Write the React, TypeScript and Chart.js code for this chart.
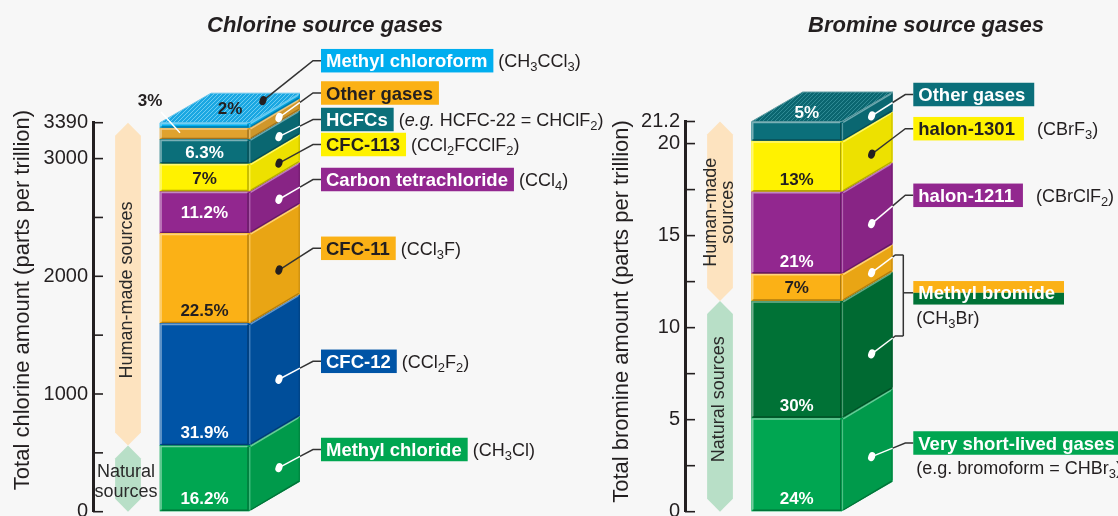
import React, { useEffect, useRef } from 'react';
import { Chart, registerables } from 'chart.js';

Chart.register(...registerables);

const FONT = "'Liberation Sans', Arial, Helvetica, sans-serif";
const BG = '#f7f7f7';
const INK = '#231f20';
const LINE = '#333333';
const W = '#ffffff';

// ---------------- Chlorine source gases (parts per trillion) ----------------
const clCategories = ['Chlorine'];
const clSeries = ['Methyl chloride', 'CFC-12', 'CFC-11', 'Carbon tetrachloride', 'CFC-113', 'HCFCs', 'Other gases', 'Methyl chloroform'];
const clValues = [563, 1037, 765, 355, 236, 207, 97, 45];
const clPercents = ['16.2%', '31.9%', '22.5%', '11.2%', '7%', '6.3%', '3%', '2%'];
const clFormulas = ['(CH_3Cl)', '(CCl_2F_2)', '(CCl_3F)', '(CCl_4)', '(CCl_2FCClF_2)', '(*e.g.* HCFC-22 = CHClF_2)', '', '(CH_3CCl_3)'];
const clTickValues = [0, 500, 1000, 1500, 2000, 2500, 3000];
const clTickLabels = ['0', '', '1000', '', '2000', '', '3000'];
const clTotalLabel = '3390';
const clNaturalCount = 1;

// ---------------- Bromine source gases (parts per trillion) ----------------
const brCategories = ['Bromine'];
const brSeries = ['Very short-lived gases', 'Methyl bromide (natural)', 'Methyl bromide (human-made)', 'halon-1211', 'halon-1301', 'Other gases'];
const brValues = [5.09, 6.36, 1.48, 4.45, 2.76, 1.06];
const brPercents = ['24%', '30%', '7%', '21%', '13%', '5%'];
const brTickValues = [0, 2.5, 5, 7.5, 10, 12.5, 15, 17.5, 20];
const brTickLabels = ['0', '', '5', '', '10', '', '15', '', '20'];
const brTotalLabel = '21.2';
const brNaturalCount = 2;
const brCalloutNames = ['Very short-lived gases', 'Methyl bromide', 'halon-1211', 'halon-1301', 'Other gases'];
const brCalloutFormulas = ['(e.g. bromoform = CHBr_3)', '(CH_3Br)', '(CBrClF_2)', '(CBrF_3)', ''];
const brCalloutSeries = [[0], [1, 2], [3], [4], [5]];

// ---------------- styles / layout ----------------
const clColors = ['#00a651', '#0054a6', '#fbb116', '#92278f', '#fff200', '#0b6f7a', '#e0a22e', '#00aeef'];
const clBoxColors = ['#00a651', '#0054a6', '#fbb116', '#92278f', '#fff200', '#0b6f7a', '#fbb116', '#00aeef'];
const clPercentInk = [W, W, INK, W, INK, W, INK, INK];
const clDotColors = [W, W, INK, W, INK, W, W, INK];
const clBoxInk = [W, W, INK, W, INK, W, INK, W];
const clCalloutY = [449.5, 361.3, 248.3, 179.5, 144.5, 119.5, 93, 60.7];

const brColors = ['#00a651', '#007236', '#fbb116', '#92278f', '#fff200', '#0b6f7a'];
const brPercentInk = [W, W, INK, W, INK, W];
const brDotColors = [W, W, W, W, INK, W];
const brBoxColors = [['#00a651'], ['#fbb116', '#007236'], ['#92278f'], ['#fff200'], ['#0b6f7a']];
const brBoxInk = [W, W, W, INK, W];
const brCalloutY = [443, 292.8, 195.3, 128.7, 94.5];
const brCalloutBelow = [true, true, false, false, false];

const DX = 51;
const DY = 29.5;
const PEACH = '#fde3bf';
const MINT = '#b8dfc7';

type Callout = { name: string; formula: string; series: number[]; y: number; box: string[]; ink: string; below: boolean };
interface Panel {
  left: number; width: number;
  categories: string[]; series: string[]; values: number[]; percents: string[];
  tickValues: number[]; tickLabels: string[]; totalLabel: string; naturalCount: number;
  colors: string[]; percentInk: string[]; dotColors: string[];
  callouts: Callout[];
  title: string; titleX: number;
  axisTitle: string; axisTitleX: number; axisTitleY: number;
  axisWidth: number; barThickness: number; padRight: number; padTop: number; padBottom: number; tickPad: number;
  bandX: number; humanLines: string[]; naturalLines: string[]; naturalRotated: boolean; humanDy: number; naturalDy: number;
  boxX: number; boxPadR: number; formulaGap: number;
  topDot: boolean; topLabelShift: [number, number];
  hatch: [string, string];
}

const chlorine: Panel = {
  left: 0, width: 620,
  categories: clCategories, series: clSeries, values: clValues, percents: clPercents,
  tickValues: clTickValues, tickLabels: clTickLabels, totalLabel: clTotalLabel, naturalCount: clNaturalCount,
  colors: clColors, percentInk: clPercentInk, dotColors: clDotColors,
  callouts: clSeries.map((name, i) => ({ name, formula: clFormulas[i], series: [i], y: clCalloutY[i], box: [clBoxColors[i]], ink: clBoxInk[i], below: false })),
  title: 'Chlorine source gases', titleX: 325,
  axisTitle: 'Total chlorine amount (parts per trillion)', axisTitleX: 23, axisTitleY: 300,
  axisWidth: 93, barThickness: 89, padRight: 620 - 316, padTop: 122.7, padBottom: 4.3, tickPad: 5,
  bandX: 128, humanLines: ['Human-made sources'], naturalLines: ['Natural', 'sources'], naturalRotated: false, humanDy: 6, naturalDy: 3,
  boxX: 321, boxPadR: 6, formulaGap: 5,
  topDot: true, topLabelShift: [0.5, 0.5],
  hatch: ['#1aa7e2', '#6cccf2'],
};

const bromine: Panel = {
  left: 600, width: 518,
  categories: brCategories, series: brSeries, values: brValues, percents: brPercents,
  tickValues: brTickValues, tickLabels: brTickLabels, totalLabel: brTotalLabel, naturalCount: brNaturalCount,
  colors: brColors, percentInk: brPercentInk, dotColors: brDotColors,
  callouts: brCalloutNames.map((name, i) => ({ name, formula: brCalloutFormulas[i], series: brCalloutSeries[i], y: brCalloutY[i], box: brBoxColors[i], ink: brBoxInk[i], below: brCalloutBelow[i] })),
  title: 'Bromine source gases', titleX: 326,
  axisTitle: 'Total bromine amount (parts per trillion)', axisTitleX: 22, axisTitleY: 311.5,
  axisWidth: 85, barThickness: 90, padRight: 518 - 308.4, padTop: 121.5, padBottom: 4.3, tickPad: 5,
  bandX: 120, humanLines: ['Human-made', 'sources'], naturalLines: ['Natural sources'], naturalRotated: true, humanDy: 1, naturalDy: -7,
  boxX: 313.3, boxPadR: 9, formulaGap: 13,
  topDot: false, topLabelShift: [0.2, 0.33],
  hatch: ['#0b6670', '#2f8a94'],
};

// ---------------- helpers ----------------
function shade(hex: string, t: number): string {
  const n = parseInt(hex.slice(1), 16);
  let r = (n >> 16) & 255, g = (n >> 8) & 255, b = n & 255;
  const T = t > 0 ? 255 : 0;
  const a = Math.abs(t);
  r = Math.round(r + (T - r) * a); g = Math.round(g + (T - g) * a); b = Math.round(b + (T - b) * a);
  return `rgb(${r},${g},${b})`;
}

type Run = { t: string; sub: boolean; it: boolean };
function parseRich(s: string): Run[] {
  const runs: Run[] = [];
  let italic = false; let buf = '';
  const flush = () => { if (buf) { runs.push({ t: buf, sub: false, it: italic }); buf = ''; } };
  for (let i = 0; i < s.length; i++) {
    const c = s[i];
    if (c === '*') { flush(); italic = !italic; continue; }
    if (c === '_') { flush(); runs.push({ t: s[i + 1], sub: true, it: italic }); i++; continue; }
    buf += c;
  }
  flush();
  return runs;
}

function drawRich(ctx: CanvasRenderingContext2D, s: string, x: number, y: number, size: number, color: string) {
  const runs = parseRich(s);
  ctx.fillStyle = color; ctx.textAlign = 'left'; ctx.textBaseline = 'alphabetic';
  const base = y + size * 0.358;
  let cx = x;
  for (const r of runs) {
    const fs = r.sub ? size * 0.72 : size;
    ctx.font = `${r.it ? 'italic ' : ''}${fs}px ${FONT}`;
    ctx.fillText(r.t, cx, r.sub ? base + size * 0.24 : base);
    cx += ctx.measureText(r.t).width;
  }
}

function band(ctx: CanvasRenderingContext2D, cx: number, half: number, yTop: number, yBot: number, tip: number, color: string) {
  ctx.beginPath();
  ctx.moveTo(cx, yTop);
  ctx.lineTo(cx + half, yTop + tip);
  ctx.lineTo(cx + half, yBot - tip);
  ctx.lineTo(cx, yBot);
  ctx.lineTo(cx - half, yBot - tip);
  ctx.lineTo(cx - half, yTop + tip);
  ctx.closePath();
  ctx.fillStyle = color;
  ctx.fill();
}

function seg(ctx: CanvasRenderingContext2D, pts: number[][], color: string, w: number) {
  ctx.strokeStyle = color; ctx.lineWidth = w;
  ctx.beginPath();
  ctx.moveTo(pts[0][0], pts[0][1]);
  for (let i = 1; i < pts.length; i++) ctx.lineTo(pts[i][0], pts[i][1]);
  ctx.stroke();
}

type Rect = { L: number; R: number; T: number; B: number; cx: number };

function makePlugin(p: Panel) {
  let pattern: CanvasPattern | null = null;
  const getRects = (chart: any): Rect[] => p.values.map((_, i) => {
    const el = chart.getDatasetMeta(i).data[0];
    const { x, y, base, width } = el.getProps(['x', 'y', 'base', 'width'], true);
    return { L: x - width / 2, R: x + width / 2, T: Math.min(y, base), B: Math.max(y, base), cx: x };
  });
  const dotPos = (r: Rect, isTop: boolean): [number, number] => {
    if (isTop && p.topDot) return [r.R + 14, r.T - 22];
    const h = r.B - r.T;
    return [r.R + 30, (r.T + r.B) / 2 - 30 * DY / DX + 0.1 * h];
  };
  const leader = (ctx: CanvasRenderingContext2D, pts: number[][], splitX: number, inner: string) => {
    const [x0, y0] = pts[0];
    const [x1, y1] = pts[1];
    let sx = x1, sy = y1;
    if (x1 > splitX && x0 < splitX) { const t = (splitX - x0) / (x1 - x0); sx = splitX; sy = y0 + t * (y1 - y0); }
    seg(ctx, [[x0, y0], [sx, sy]], inner === W ? W : LINE, 1.5);
    seg(ctx, [[sx, sy], ...pts.slice(1)], LINE, 1.5);
  };

  return {
    id: 'cube3d',
    beforeDatasetsDraw(chart: any) {
      const ctx: CanvasRenderingContext2D = chart.ctx;
      const ys = chart.scales.y;
      const total = p.values.reduce((a, b) => a + b, 0);
      const nat = p.values.slice(0, p.naturalCount).reduce((a, b) => a + b, 0);
      const yTop = ys.getPixelForValue(total), yMid = ys.getPixelForValue(nat), yBot = ys.getPixelForValue(0);
      ctx.save();
      band(ctx, p.bandX, 12.9, yTop, yMid, 13, PEACH);
      band(ctx, p.bandX, 12.9, yMid, yBot, 13, MINT);
      ctx.fillStyle = '#2a2a2a';
      ctx.font = `18px ${FONT}`;
      ctx.textAlign = 'center'; ctx.textBaseline = 'middle';
      // human-made (rotated)
      ctx.save();
      ctx.translate(p.bandX - 0.5, (yTop + yMid) / 2 + p.humanDy);
      ctx.rotate(-Math.PI / 2);
      const hn = p.humanLines.length;
      p.humanLines.forEach((t, i) => ctx.fillText(t, 0, (i - (hn - 1) / 2) * 16.6));
      ctx.restore();
      const nn = p.naturalLines.length;
      if (p.naturalRotated) {
        ctx.save();
        ctx.translate(p.bandX - 0.5, (yMid + yBot) / 2 + p.naturalDy);
        ctx.rotate(-Math.PI / 2);
        p.naturalLines.forEach((t, i) => ctx.fillText(t, 0, (i - (nn - 1) / 2) * 16.6));
        ctx.restore();
      } else {
        p.naturalLines.forEach((t, i) => ctx.fillText(t, p.bandX - 2, (yMid + yBot) / 2 + p.naturalDy + (i - (nn - 1) / 2) * 20));
      }
      ctx.restore();
    },
    afterDatasetsDraw(chart: any) {
      const ctx: CanvasRenderingContext2D = chart.ctx;
      const rects = getRects(chart);
      const n = rects.length;
      ctx.save();
      // front bevels
      rects.forEach((r, i) => {
        const c = p.colors[i];
        seg(ctx, [[r.L + 1, r.B - 1.5], [r.L + 1, r.T + 1], [r.R - 1.5, r.T + 1]], shade(c, 0.45), 1.6);
        seg(ctx, [[r.R - 1, r.T + 1.5], [r.R - 1, r.B - 1], [r.L + 1.5, r.B - 1]], shade(c, -0.3), 1.4);
      });
      // side faces
      rects.forEach((r, i) => {
        const c = p.colors[i];
        ctx.beginPath();
        ctx.moveTo(r.R, r.T); ctx.lineTo(r.R + DX, r.T - DY); ctx.lineTo(r.R + DX, r.B - DY); ctx.lineTo(r.R, r.B); ctx.closePath();
        ctx.fillStyle = shade(c, -0.07); ctx.fill();
        seg(ctx, [[r.R + 1.5, r.T + 0.8], [r.R + DX - 1, r.T - DY + 1.4]], shade(c, 0.4), 1.5);
        seg(ctx, [[r.R + 1.5, r.B - 1.2], [r.R + DX - 1, r.B - DY - 0.6]], shade(c, -0.3), 1.3);
        seg(ctx, [[r.R + 0.8, r.T + 1.5], [r.R + 0.8, r.B - 1.5]], shade(c, 0.3), 1.2);
        seg(ctx, [[r.R + DX - 0.8, r.T - DY + 1.5], [r.R + DX - 0.8, r.B - DY - 1.5]], shade(c, -0.2), 1.2);
      });
      // top face (hatched)
      if (!pattern) {
        const pc = document.createElement('canvas');
        pc.width = 4; pc.height = 4;
        const g = pc.getContext('2d')!;
        g.fillStyle = p.hatch[0]; g.fillRect(0, 0, 4, 4);
        g.strokeStyle = p.hatch[1]; g.lineWidth = 1;
        g.beginPath(); g.moveTo(0, 4); g.lineTo(4, 0); g.moveTo(-1, 1); g.lineTo(1, -1); g.moveTo(3, 5); g.lineTo(5, 3); g.stroke();
        pattern = ctx.createPattern(pc, 'repeat');
      }
      const top = rects[n - 1];
      ctx.beginPath();
      ctx.moveTo(top.L, top.T); ctx.lineTo(top.R, top.T); ctx.lineTo(top.R + DX, top.T - DY); ctx.lineTo(top.L + DX, top.T - DY); ctx.closePath();
      ctx.fillStyle = pattern as any; ctx.fill();
      ctx.strokeStyle = shade(p.hatch[0], 0.35); ctx.lineWidth = 1; ctx.stroke();

      // percent labels
      ctx.font = `bold 17px ${FONT}`;
      ctx.textAlign = 'center'; ctx.textBaseline = 'alphabetic';
      rects.forEach((r, i) => {
        const h = r.B - r.T;
        const txt = p.percents[i];
        ctx.fillStyle = p.percentInk[i];
        if (i === n - 1) {
          ctx.fillText(txt, r.cx + DX * p.topLabelShift[0], r.T - DY * p.topLabelShift[1] + 6);
        } else if (h < 14) {
          seg(ctx, [[r.L + 1, r.T - 16], [r.L + 20, r.T + 4.7]], W, 1.5);
          ctx.fillStyle = INK;
          ctx.fillText(txt, r.L - 10, r.T - 27.6 + 6);
        } else if (h > 45) {
          ctx.fillText(txt, r.cx, r.B - 13 + 6);
        } else {
          ctx.fillText(txt, r.cx, (r.T + r.B) / 2 + 6);
        }
      });

      // callouts
      p.callouts.forEach((c) => {
        const bx = p.boxX, Y = c.y;
        if (c.series.length === 1) {
          const i = c.series[0];
          const [dx, dy] = dotPos(rects[i], i === n - 1);
          leader(ctx, [[dx, dy], [bx - 8, Y], [bx, Y]], rects[i].R + DX, p.dotColors[i]);
        } else {
          const ends = c.series.map((i) => {
            const [dx, dy] = dotPos(rects[i], i === n - 1);
            const ex = bx - 18;
            const ey = dy - 0.755 * (ex - dx);
            leader(ctx, [[dx, dy], [ex, ey], [bx - 10, ey]], rects[i].R + DX, p.dotColors[i]);
            return ey;
          });
          seg(ctx, [[bx - 10, Math.min(...ends)], [bx - 10, Math.max(...ends)]], LINE, 1.5);
          seg(ctx, [[bx - 10, Y], [bx, Y]], LINE, 1.5);
        }
        ctx.font = `bold 18.5px ${FONT}`;
        const tw = ctx.measureText(c.name).width;
        const w = tw + 5 + p.boxPadR;
        const bh = 23.5;
        if (c.box.length === 2) {
          ctx.fillStyle = c.box[0]; ctx.fillRect(bx, Y - bh / 2, w, bh / 2);
          ctx.fillStyle = c.box[1]; ctx.fillRect(bx, Y, w, bh / 2);
        } else {
          ctx.fillStyle = c.box[0]; ctx.fillRect(bx, Y - bh / 2, w, bh);
        }
        ctx.fillStyle = c.ink; ctx.textAlign = 'left'; ctx.textBaseline = 'alphabetic';
        ctx.fillText(c.name, bx + 5, Y + 6.6);
        if (c.formula) {
          if (c.below) drawRich(ctx, c.formula, bx + 3, Y + 24.5, 18, INK);
          else drawRich(ctx, c.formula, bx + w + p.formulaGap, Y, 18, INK);
        }
      });
      // dots
      rects.forEach((r, i) => {
        const [x, y] = dotPos(r, i === n - 1);
        ctx.beginPath();
        ctx.ellipse(x, y, 3.4, 4.7, 0.35, 0, Math.PI * 2);
        ctx.fillStyle = p.dotColors[i];
        ctx.fill();
      });
      ctx.restore();
    },
    afterDraw(chart: any) {
      const ctx: CanvasRenderingContext2D = chart.ctx;
      const ys = chart.scales.y;
      const x0 = chart.chartArea.left;
      ctx.save();
      ys.ticks.forEach((t: any) => {
        const y = ys.getPixelForValue(t.value);
        seg(ctx, [[x0, y], [x0 + 10, y]], INK, 1.6);
      });
      ctx.fillStyle = INK;
      ctx.font = `italic bold 22px ${FONT}`;
      ctx.textAlign = 'center'; ctx.textBaseline = 'alphabetic';
      ctx.fillText(p.title, p.titleX, 32);
      ctx.save();
      ctx.translate(p.axisTitleX, p.axisTitleY);
      ctx.rotate(-Math.PI / 2);
      ctx.font = `22px ${FONT}`;
      ctx.textBaseline = 'middle';
      ctx.fillStyle = INK;
      ctx.fillText(p.axisTitle, 0, 0);
      ctx.restore();
      ctx.restore();
    },
  };
}

function buildConfig(p: Panel): any {
  const total = p.values.reduce((a, b) => a + b, 0);
  return {
    type: 'bar',
    data: {
      labels: p.categories,
      datasets: p.series.map((name, i) => ({
        label: name,
        data: [p.values[i]],
        backgroundColor: p.colors[i],
        borderWidth: 0,
        barThickness: p.barThickness,
        stack: 'total',
      })),
    },
    options: {
      responsive: false,
      animation: false,
      devicePixelRatio: 1,
      layout: { padding: { left: 0, right: p.padRight, top: p.padTop, bottom: p.padBottom } },
      plugins: { legend: { display: false }, tooltip: { enabled: false }, title: { display: false } },
      scales: {
        x: { type: 'category', stacked: true, display: false },
        y: {
          type: 'linear', stacked: true, min: 0, max: total, position: 'left',
          grid: { display: true, drawOnChartArea: false, drawTicks: false },
          border: { display: true, color: INK, width: 3 },
          ticks: {
            autoSkip: false, padding: p.tickPad, color: INK,
            font: { family: FONT, size: 20 },
            callback: (_v: any, i: number) => (i < p.tickLabels.length ? p.tickLabels[i] : p.totalLabel),
          },
          afterBuildTicks: (s: any) => { s.ticks = [...p.tickValues, total].map((v) => ({ value: v })); },
          afterFit: (s: any) => { s.width = p.axisWidth; s.paddingTop = 0; s.paddingBottom = 0; },
        },
      },
    },
    plugins: [makePlugin(p)],
  };
}

function PanelChart({ p }: { p: Panel }) {
  const ref = useRef<HTMLCanvasElement>(null);
  useEffect(() => {
    const chart = new Chart(ref.current as HTMLCanvasElement, buildConfig(p));
    return () => chart.destroy();
  }, []);
  return (
    <canvas
      ref={ref}
      width={p.width}
      height={516}
      style={{ position: 'absolute', left: p.left, top: 0, width: p.width, height: 516 }}
    />
  );
}

export default function App() {
  return (
    <div style={{ position: 'fixed', left: 0, top: 0, width: 1118, height: 516, background: BG, overflow: 'hidden' }}>
      <PanelChart p={chlorine} />
      <PanelChart p={bromine} />
    </div>
  );
}
